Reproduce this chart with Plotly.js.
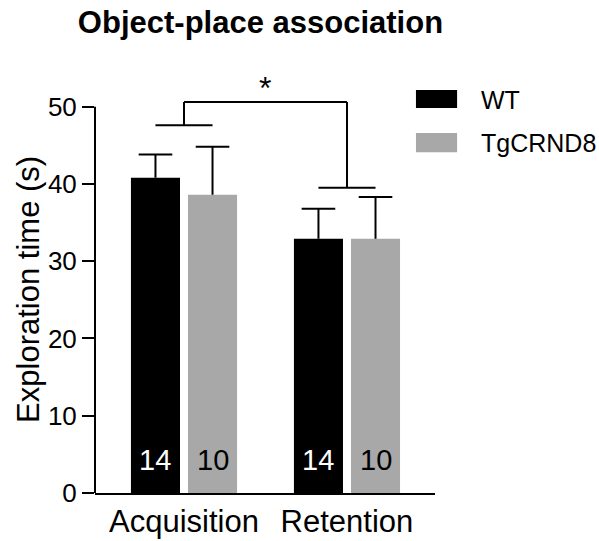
<!DOCTYPE html>
<html>
<head>
<meta charset="utf-8">
<script src="https://cdn.plot.ly/plotly-3.0.1.min.js"></script>
<style>html,body{margin:0;padding:0;background:#fff;}#chart{width:599px;height:541px;}</style>
</head>
<body>
<div id="chart"></div>
<script>
// ---- data ----
const categories = ['Acquisition', 'Retention'];
const seriesNames = ['WT', 'TgCRND8'];
const wtMean = [40.8, 32.9];
const wtErr = [3.0, 3.9];
const tgMean = [38.6, 32.9];
const tgErr = [6.2, 5.4];
const wtN = [14, 14];
const tgN = [10, 10];
const yTicks = [0, 10, 20, 30, 40, 50];

// ---- styles ----
const FONT = 'Liberation Sans, Arial, sans-serif';
const WT_COLOR = '#000000';
const TG_COLOR = '#a8a8a8';
const idx = categories.map((c, i) => i);
const OFF = 0.175; // half spacing of grouped bars (in category units)

function errTrace(mean, err, sign) {
  // caps for the one-sided (upper) error bars
  return {
    type: 'scatter', mode: 'markers', x: idx.map(i => i + sign * OFF),
    y: mean.map((m, i) => m + err[i]),
    marker: {symbol: 'line-ew-open', size: 24, color: '#000', line: {color: '#000', width: 2}},
    showlegend: false, hoverinfo: 'none', cliponaxis: false
  };
}

const traces = [
  {
    type: 'bar', name: seriesNames[0], x: idx, y: wtMean,
    marker: {color: WT_COLOR, line: {width: 0}},
    error_y: {type: 'data', symmetric: false, array: wtErr, arrayminus: wtMean.map(() => 0),
              color: '#000', thickness: 2, width: 0},
    showlegend: false, hoverinfo: 'none'
  },
  {
    type: 'bar', name: seriesNames[1], x: idx, y: tgMean,
    marker: {color: TG_COLOR, line: {width: 0}},
    error_y: {type: 'data', symmetric: false, array: tgErr, arrayminus: tgMean.map(() => 0),
              color: '#000', thickness: 2, width: 0},
    showlegend: false, hoverinfo: 'none'
  },
  errTrace(wtMean, wtErr, -1),
  errTrace(tgMean, tgErr, 1)
];

const annotations = [];
// n labels inside bars
idx.forEach(i => {
  annotations.push({x: i - OFF, y: 4.3, xref: 'x', yref: 'y', text: String(wtN[i]), showarrow: false,
    font: {family: FONT, size: 29, color: '#fff'}, xanchor: 'center', yanchor: 'middle'});
  annotations.push({x: i + OFF, y: 4.3, xref: 'x', yref: 'y', text: String(tgN[i]), showarrow: false,
    font: {family: FONT, size: 29, color: '#000'}, xanchor: 'center', yanchor: 'middle'});
});

// significance bracket
const brTop = 50.6, brLeft = 47.6, brRight = 39.5, brHalf = 0.175;
const lineStyle = {color: '#000', width: 2};
const shapes = [
  // y axis line (0 to 50 only)
  {type: 'line', xref: 'paper', yref: 'y', x0: 0, x1: 0, y0: 0, y1: 50, line: lineStyle},
  {type: 'line', xref: 'x', yref: 'y', x0: 0, x1: 1, y0: brTop, y1: brTop, line: lineStyle},
  {type: 'line', xref: 'x', yref: 'y', x0: 0, x1: 0, y0: brTop, y1: brLeft, line: lineStyle},
  {type: 'line', xref: 'x', yref: 'y', x0: -brHalf, x1: brHalf, y0: brLeft, y1: brLeft, line: lineStyle},
  {type: 'line', xref: 'x', yref: 'y', x0: 1, x1: 1, y0: brTop, y1: brRight, line: lineStyle},
  {type: 'line', xref: 'x', yref: 'y', x0: 1 - brHalf, x1: 1 + brHalf, y0: brRight, y1: brRight, line: lineStyle},
  // legend swatches
  {type: 'rect', xref: 'paper', yref: 'paper', x0: 0.944, x1: 1.065, y0: 0.906, y1: 0.948,
   fillcolor: WT_COLOR, line: {width: 0}},
  {type: 'rect', xref: 'paper', yref: 'paper', x0: 0.944, x1: 1.065, y0: 0.802, y1: 0.847,
   fillcolor: TG_COLOR, line: {width: 0}}
];
annotations.push({x: 0.5, y: brTop, xref: 'x', yref: 'y', text: '*', showarrow: false,
  font: {family: FONT, size: 32, color: '#000'}, xanchor: 'center', yanchor: 'bottom', yshift: -6});
annotations.push({x: 1.128, y: 0.925, xref: 'paper', yref: 'paper', text: seriesNames[0], showarrow: false,
  font: {family: FONT, size: 25, color: '#000'}, xanchor: 'left', yanchor: 'middle'});
annotations.push({x: 1.128, y: 0.823, xref: 'paper', yref: 'paper', text: seriesNames[1], showarrow: false,
  font: {family: FONT, size: 25, color: '#000'}, xanchor: 'left', yanchor: 'middle'});
// y axis title
annotations.push({x: -0.194, y: 0.478, xref: 'paper', yref: 'paper', text: 'Exploration time (s)',
  textangle: -90, showarrow: false, font: {family: FONT, size: 31, color: '#000'},
  xanchor: 'center', yanchor: 'middle'});

const layout = {
  width: 599, height: 541,
  margin: {l: 95, r: 164, t: 68, b: 48, pad: 0},
  paper_bgcolor: '#fff', plot_bgcolor: '#fff',
  barmode: 'group', bargap: 0.30, bargroupgap: 0.14,
  showlegend: false,
  title: {text: 'Object-place association', x: 0.130, xref: 'container', xanchor: 'left',
          y: 0.959, yref: 'container', yanchor: 'middle',
          font: {family: FONT, size: 31, color: '#000', weight: 'bold'}},
  xaxis: {
    type: 'linear', range: [-0.546, 1.54], tickmode: 'array', tickvals: idx, ticktext: categories,
    showline: true, linecolor: '#000', linewidth: 2, ticks: '', showgrid: false, zeroline: false,
    tickfont: {family: FONT, size: 31, color: '#000'}, ticklabelstandoff: 0, fixedrange: true
  },
  yaxis: {
    range: [0, 55], tickmode: 'array', tickvals: yTicks, ticktext: yTicks.map(String),
    showline: false, ticks: 'outside', ticklen: 12, tickwidth: 2, tickcolor: '#000',
    showgrid: false, zeroline: false,
    tickfont: {family: FONT, size: 26, color: '#000'},
    automargin: false, fixedrange: true
  },
  shapes: shapes,
  annotations: annotations
};

Plotly.newPlot('chart', traces, layout, {displayModeBar: false, staticPlot: true});
</script>
</body>
</html>
